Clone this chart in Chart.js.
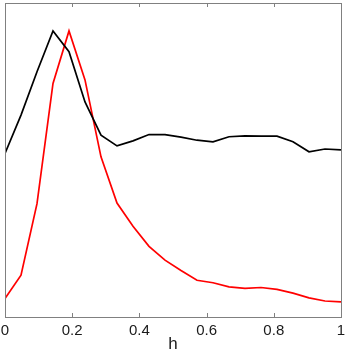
<!DOCTYPE html>
<html>
<head>
<meta charset="utf-8">
<script src="https://cdn.jsdelivr.net/npm/chart.js@4/dist/chart.umd.min.js"></script>
<style>
  html, body { margin: 0; padding: 0; background: #fff; }
  #wrap { width: 349px; height: 357px; }
</style>
</head>
<body>
<div id="wrap"><canvas id="chart" width="349" height="357"></canvas></div>
<script>
// h grid: 22 samples, step 1/21
const hValues = Array.from({ length: 22 }, (_, i) => i / 21);
const blackSeries = [0.521, 0.643, 0.781, 0.911, 0.845, 0.685, 0.579, 0.545, 0.561, 0.581, 0.581,
                     0.573, 0.563, 0.558, 0.574, 0.577, 0.576, 0.576, 0.558, 0.526, 0.535, 0.532];
const redSeries = [0.059, 0.133, 0.361, 0.744, 0.911, 0.755, 0.510, 0.363, 0.289, 0.225, 0.181,
                   0.148, 0.117, 0.109, 0.096, 0.091, 0.094, 0.088, 0.076, 0.061, 0.051, 0.048];
const xTicks = [0, 0.2, 0.4, 0.6, 0.8, 1];

function toPoints(ys) {
    return ys.map((y, i) => ({ x: hValues[i], y: y }));
}

// box around the plot plus inward ticks on top and bottom
const boxPlugin = {
    id: 'box',
    afterDraw(chart) {
        const ctx = chart.ctx;
        const a = chart.chartArea;
        const xs = chart.scales.x;
        ctx.save();
        ctx.strokeStyle = '#808080';
        ctx.lineWidth = 1;
        ctx.strokeRect(Math.round(a.left) + 0.5, Math.round(a.top) + 0.5,
            Math.round(a.right - a.left), Math.round(a.bottom - a.top));
        ctx.beginPath();
        xTicks.forEach(t => {
            const px = Math.round(xs.getPixelForValue(t)) + 0.5;
            ctx.moveTo(px, a.bottom);
            ctx.lineTo(px, a.bottom - 4);
            ctx.moveTo(px, a.top);
            ctx.lineTo(px, a.top + 4);
        });
        ctx.stroke();
        ctx.restore();
    }
};

const ctx = document.getElementById('chart').getContext('2d');
new Chart(ctx, {
    type: 'line',
    data: {
        datasets: [
            { data: toPoints(blackSeries), borderColor: '#000000', borderWidth: 1.7, pointRadius: 0, tension: 0 },
            { data: toPoints(redSeries), borderColor: '#ff0000', borderWidth: 1.7, pointRadius: 0, tension: 0 }
        ]
    },
    options: {
        responsive: false,
        animation: false,
        layout: { padding: { left: 5, right: 8, top: 3, bottom: 0 } },
        plugins: { legend: { display: false }, tooltip: { enabled: false } },
        scales: {
            x: {
                type: 'linear',
                min: 0,
                max: 1,
                afterBuildTicks: s => { s.ticks = xTicks.map(v => ({ value: v })); },
                afterFit: s => {
                    s.height = 40;
                    s.paddingLeft = 0;
                    s.paddingRight = 0;
                },
                grid: { display: false, drawTicks: false },
                border: { display: false },
                ticks: {
                    padding: 5,
                    maxRotation: 0,
                    color: '#1a1a1a',
                    font: { family: 'Liberation Sans, Arial, sans-serif', size: 15 },
                    callback: v => String(v)
                },
                title: {
                    display: true,
                    text: 'h',
                    color: '#1a1a1a',
                    padding: { top: 2, bottom: 2 },
                    font: { family: 'Liberation Sans, Arial, sans-serif', size: 17 }
                }
            },
            y: {
                display: false,
                min: 0,
                max: 1
            }
        }
    },
    plugins: [boxPlugin]
});
</script>
</body>
</html>
